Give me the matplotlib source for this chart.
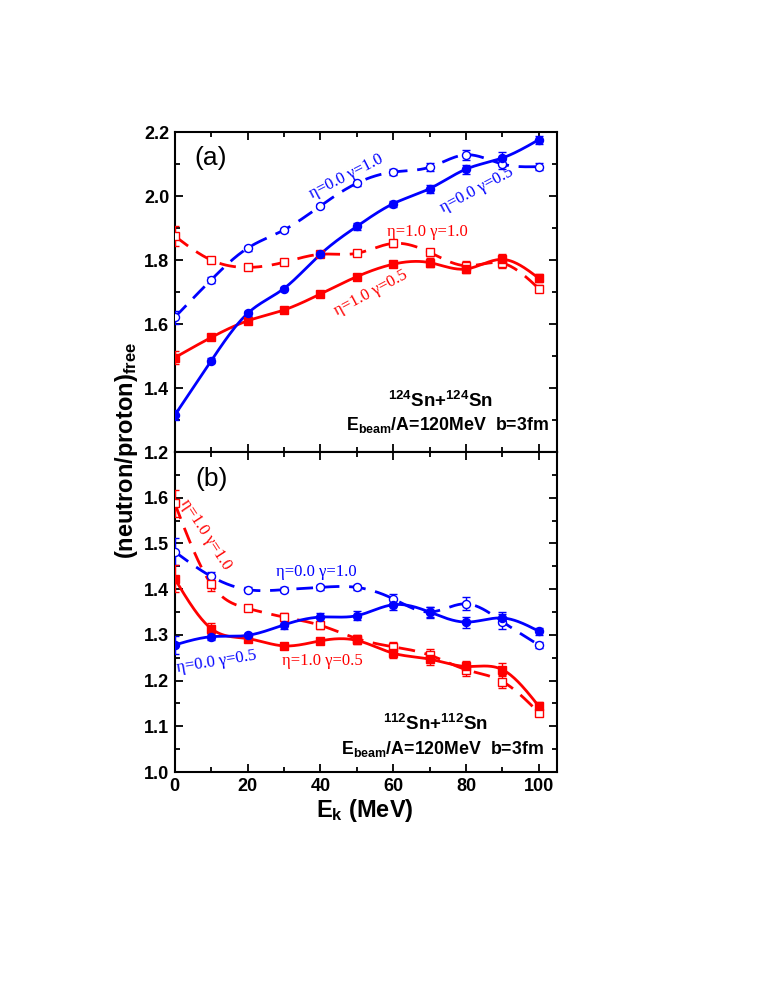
import numpy as np
import matplotlib
matplotlib.use('Agg')
import matplotlib.pyplot as plt
from matplotlib.ticker import MultipleLocator

plt.rcParams['font.family'] = ['Liberation Sans', 'DejaVu Sans']
plt.rcParams['mathtext.fontset'] = 'custom'
plt.rcParams['mathtext.rm'] = 'Liberation Sans:bold'
plt.rcParams['mathtext.it'] = 'Liberation Sans:bold'
plt.rcParams['mathtext.bf'] = 'Liberation Sans:bold'

# kinetic energy of the free nucleons (MeV)
ek = [0, 10, 20, 30, 40, 50, 60, 70, 80, 90, 100]

# panel (a): 124Sn+124Sn
a_eta0_g05 = [1.315, 1.485, 1.633, 1.711, 1.818, 1.905, 1.976, 2.023, 2.084, 2.119, 2.176]
a_eta0_g10 = [1.621, 1.738, 1.837, 1.894, 1.969, 2.040, 2.075, 2.090, 2.129, 2.100, 2.092]
a_eta1_g05 = [1.495, 1.558, 1.610, 1.644, 1.694, 1.748, 1.787, 1.792, 1.772, 1.802, 1.743]
a_eta1_g10 = [1.875, 1.800, 1.777, 1.793, 1.818, 1.821, 1.852, 1.824, 1.782, 1.790, 1.711]
a_err_eta0_g05 = [0.015, 0.008, 0.008, 0.006, 0.006, 0.010, 0.010, 0.012, 0.014, 0.020, 0.012]
a_err_eta0_g10 = [0.020, 0.010, 0.008, 0.006, 0.006, 0.008, 0.010, 0.012, 0.016, 0.014, 0.010]
a_err_eta1_g05 = [0.020, 0.008, 0.008, 0.006, 0.006, 0.008, 0.010, 0.014, 0.014, 0.018, 0.012]
a_err_eta1_g10 = [0.030, 0.010, 0.008, 0.006, 0.006, 0.008, 0.010, 0.012, 0.014, 0.016, 0.010]

# panel (b): 112Sn+112Sn
b_eta0_g05 = [1.278, 1.296, 1.299, 1.322, 1.339, 1.342, 1.366, 1.350, 1.328, 1.337, 1.308]
b_eta0_g10 = [1.482, 1.428, 1.399, 1.399, 1.404, 1.404, 1.379, 1.350, 1.368, 1.329, 1.278]
b_eta1_g05 = [1.423, 1.314, 1.292, 1.276, 1.287, 1.288, 1.260, 1.247, 1.231, 1.224, 1.144]
b_eta1_g10 = [1.588, 1.411, 1.358, 1.339, 1.321, 1.292, 1.274, 1.256, 1.224, 1.198, 1.130]
b_err_eta0_g05 = [0.020, 0.008, 0.006, 0.008, 0.008, 0.010, 0.012, 0.010, 0.012, 0.014, 0.008]
b_err_eta0_g10 = [0.030, 0.010, 0.006, 0.006, 0.006, 0.006, 0.010, 0.012, 0.014, 0.016, 0.006]
b_err_eta1_g05 = [0.030, 0.012, 0.008, 0.006, 0.006, 0.008, 0.010, 0.012, 0.012, 0.014, 0.010]
b_err_eta1_g10 = [0.030, 0.014, 0.006, 0.008, 0.008, 0.008, 0.010, 0.014, 0.014, 0.014, 0.008]


# natural cubic spline used to draw the smooth curves through the points
def smooth(x, y, n=300):
    x = np.asarray(x, float)
    y = np.asarray(y, float)
    h = np.diff(x)
    m = len(x)
    A = np.zeros((m, m))
    r = np.zeros(m)
    A[0, 0] = A[-1, -1] = 1
    for i in range(1, m - 1):
        A[i, i - 1] = h[i - 1]
        A[i, i] = 2 * (h[i - 1] + h[i])
        A[i, i + 1] = h[i]
        r[i] = 3 * ((y[i + 1] - y[i]) / h[i] - (y[i] - y[i - 1]) / h[i - 1])
    c = np.linalg.solve(A, r)
    b = (y[1:] - y[:-1]) / h - h * (2 * c[:-1] + c[1:]) / 3
    d = (c[1:] - c[:-1]) / (3 * h)
    xs = np.linspace(x[0], x[-1], n)
    k = np.clip(np.searchsorted(x, xs) - 1, 0, m - 2)
    dx = xs - x[k]
    return xs, y[k] + b[k] * dx + c[k] * dx ** 2 + d[k] * dx ** 3


def draw_series(ax, y, err, color, marker, filled, dashed):
    xs, ys = smooth(ek, y)
    if dashed:
        ax.plot(xs, ys, color=color, lw=2, dashes=(6, 3.5), zorder=2)
    else:
        ax.plot(xs, ys, color=color, lw=2, zorder=2)
    ms = 5.8 if marker == 'o' else 5.3
    ax.errorbar(ek, y, yerr=err, fmt=marker, color=color, ms=ms,
                mfc=color if filled else 'white', mec=color, mew=1,
                elinewidth=1, capsize=3, capthick=1, zorder=3)


def style_axes(ax):
    ax.set_xlim(0, 105)
    ax.xaxis.set_major_locator(MultipleLocator(20))
    ax.xaxis.set_minor_locator(MultipleLocator(10))
    ax.tick_params(which='both', direction='in', top=True, right=True, width=1.3)
    ax.tick_params(which='major', length=6, labelsize=13, pad=4)
    ax.tick_params(which='minor', length=3.5)
    for s in ax.spines.values():
        s.set_linewidth(1.5)
    for lab in ax.get_xticklabels() + ax.get_yticklabels():
        lab.set_fontweight('bold')


fig = plt.figure(figsize=(7.63, 9.81), dpi=100)
ax1 = fig.add_axes([0.229, 0.5392, 0.501, 0.3262])
ax2 = fig.add_axes([0.229, 0.2130, 0.501, 0.3262])

serif = ['Liberation Serif', 'DejaVu Serif']

# ---- panel (a)
draw_series(ax1, a_eta0_g10, a_err_eta0_g10, 'blue', 'o', False, True)
draw_series(ax1, a_eta1_g10, a_err_eta1_g10, 'red', 's', False, True)
draw_series(ax1, a_eta1_g05, a_err_eta1_g05, 'red', 's', True, False)
draw_series(ax1, a_eta0_g05, a_err_eta0_g05, 'blue', 'o', True, False)
ax1.set_ylim(1.2, 2.2)
ax1.yaxis.set_major_locator(MultipleLocator(0.2))
ax1.yaxis.set_minor_locator(MultipleLocator(0.1))
style_axes(ax1)
ax1.tick_params(labelbottom=False)
ax1.text(5.3, 2.12, '(a)', fontsize=19, va='center', ha='left')
ax1.text(47.0, 2.062, 'η=0.0 γ=1.0', color='blue', family=serif, fontsize=12,
         rotation=27, ha='center', va='center', rotation_mode='anchor')
ax1.text(83.1, 2.019, 'η=0.0 γ=0.5', color='blue', family=serif, fontsize=12,
         rotation=28, ha='center', va='center', rotation_mode='anchor')
ax1.text(69.3, 1.888, 'η=1.0 γ=1.0', color='red', family=serif, fontsize=12,
         ha='center', va='center')
ax1.text(53.9, 1.696, 'η=1.0 γ=0.5', color='red', family=serif, fontsize=12,
         rotation=28, ha='center', va='center', rotation_mode='anchor')
ax1.text(73.1, 1.36, r'$^{124}$Sn+$^{124}$Sn', fontsize=13.5, fontweight='bold',
         ha='center', va='center')
ax1.text(102.7, 1.284, r'E$_{\rm beam}$/A=120MeV  b=3fm', fontsize=12.8,
         fontweight='bold', ha='right', va='center')

# ---- panel (b)
draw_series(ax2, b_eta0_g10, b_err_eta0_g10, 'blue', 'o', False, True)
draw_series(ax2, b_eta1_g10, b_err_eta1_g10, 'red', 's', False, True)
draw_series(ax2, b_eta1_g05, b_err_eta1_g05, 'red', 's', True, False)
draw_series(ax2, b_eta0_g05, b_err_eta0_g05, 'blue', 'o', True, False)
ax2.set_ylim(1.0, 1.7)
ax2.set_yticks([1.0, 1.1, 1.2, 1.3, 1.4, 1.5, 1.6])
ax2.yaxis.set_minor_locator(MultipleLocator(0.05))
style_axes(ax2)
ax2.text(5.7, 1.641, '(b)', fontsize=19, va='center', ha='left')
ax2.text(8.5, 1.519, 'η=1.0 γ=1.0', color='red', family=serif, fontsize=12,
         rotation=-57, ha='center', va='center', rotation_mode='anchor')
ax2.text(38.8, 1.438, 'η=0.0 γ=1.0', color='blue', family=serif, fontsize=12,
         ha='center', va='center')
ax2.text(11.6, 1.242, 'η=0.0 γ=0.5', color='blue', family=serif, fontsize=12,
         rotation=9, ha='center', va='center', rotation_mode='anchor')
ax2.text(40.6, 1.244, 'η=1.0 γ=0.5', color='red', family=serif, fontsize=12,
         ha='center', va='center')
ax2.text(71.7, 1.105, r'$^{112}$Sn+$^{112}$Sn', fontsize=13.5, fontweight='bold',
         ha='center', va='center')
ax2.text(101.4, 1.051, r'E$_{\rm beam}$/A=120MeV  b=3fm', fontsize=12.8,
         fontweight='bold', ha='right', va='center')

fig.text(0.478, 0.174, r'E$_{\rm k}$ (MeV)', fontsize=17, fontweight='bold',
         ha='center', va='center')
fig.text(0.166, 0.541, r'(neutron/proton)$_{\rm free}$', fontsize=17,
         fontweight='bold', rotation=90, ha='center', va='center')

fig.savefig('out.png', dpi=100)
